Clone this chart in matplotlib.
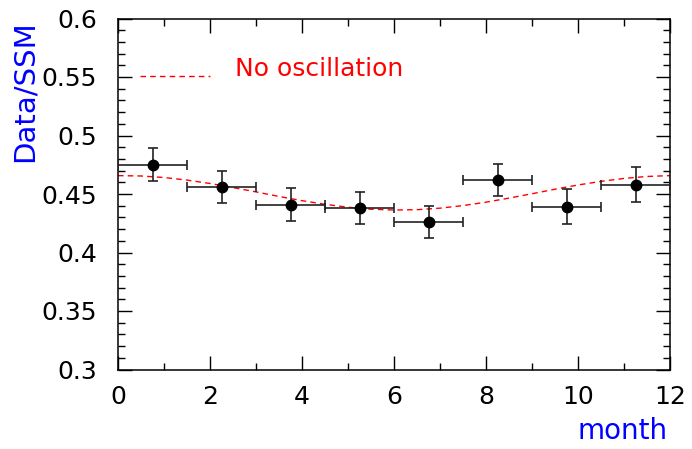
import matplotlib
matplotlib.use("Agg")
import matplotlib.pyplot as plt
from matplotlib.ticker import MultipleLocator, FixedLocator

# Monthly bins (1.5 months wide) of measured flux relative to SSM
bin_centers = [0.75, 2.25, 3.75, 5.25, 6.75, 8.25, 9.75, 11.25]
bin_halfwidth = [0.75, 0.75, 0.75, 0.75, 0.75, 0.75, 0.75, 0.75]
ratio = [0.475, 0.456, 0.441, 0.438, 0.426, 0.462, 0.439, 0.458]
ratio_err = [0.014, 0.014, 0.014, 0.014, 0.014, 0.014, 0.015, 0.015]

# Expected seasonal variation without oscillation
curve_month = [0.0, 0.5, 1.0, 1.5, 2.0, 2.5, 3.0, 3.5, 4.0, 4.5, 5.0, 5.5, 6.0,
               6.5, 7.0, 7.5, 8.0, 8.5, 9.0, 9.5, 10.0, 10.5, 11.0, 11.5, 12.0]
curve_ratio = [0.4657, 0.4654, 0.4641, 0.4619, 0.4590, 0.4555, 0.4518, 0.4479,
               0.4443, 0.4412, 0.4387, 0.4370, 0.4363, 0.4366, 0.4379, 0.4401,
               0.4430, 0.4465, 0.4502, 0.4541, 0.4577, 0.4608, 0.4633, 0.4650,
               0.4657]

y_ticks = [0.3, 0.35, 0.4, 0.45, 0.5, 0.55, 0.6]
y_tick_labels = ["0.3", "0.35", "0.4", "0.45", "0.5", "0.55", "0.6"]
x_ticks = [0, 2, 4, 6, 8, 10, 12]
x_tick_labels = ["0", "2", "4", "6", "8", "10", "12"]

W, H = 692, 449
fig = plt.figure(figsize=(W / 100, H / 100), dpi=100)
left, right, top, bottom = 118, 670, 18.5, 369.5
ax = fig.add_axes([left / W, 1 - bottom / H, (right - left) / W, (bottom - top) / H])

ax.set_xlim(0, 12)
ax.set_ylim(0.3, 0.6)

# Theory curve
ax.plot(curve_month, curve_ratio, color="red", lw=1.0, dashes=(4, 3), zorder=2)

# Data points
ax.errorbar(bin_centers, ratio, xerr=bin_halfwidth, yerr=ratio_err,
            fmt="o", color="black", ecolor="#222222", elinewidth=1.2,
            capsize=3.8, capthick=1.2, markersize=7.5, zorder=3)

# Legend entry
ax.plot([0.04, 0.167], [0.836, 0.836], transform=ax.transAxes,
        color="red", lw=1.0, dashes=(4, 3))
ax.text(0.212, 0.836, "No oscillation", transform=ax.transAxes,
        color="red", fontsize=18, ha="left", va="baseline")

# Axes styling
ax.xaxis.set_major_locator(FixedLocator(x_ticks))
ax.set_xticklabels(x_tick_labels)
ax.xaxis.set_minor_locator(MultipleLocator(1))
ax.yaxis.set_major_locator(FixedLocator(y_ticks))
ax.set_yticklabels(y_tick_labels)
ax.yaxis.set_minor_locator(MultipleLocator(0.01))

ax.tick_params(which="both", direction="in", top=True, right=True,
               color="black", width=1.0)
ax.tick_params(which="major", length=10, labelsize=18)
ax.tick_params(which="minor", length=5)
ax.tick_params(axis="y", which="major", pad=15)
ax.tick_params(axis="x", which="major", pad=11)
for s in ax.spines.values():
    s.set_linewidth(1.1)
    s.set_color("black")

fig.text(25 / W, 1 - 20 / H, "Data/SSM", color="blue", fontsize=21,
         rotation=90, ha="center", va="top")
fig.text(668 / W, 1 - 431 / H, "month", color="blue", fontsize=20,
         ha="right", va="center")

fig.savefig("out.png", dpi=100)
